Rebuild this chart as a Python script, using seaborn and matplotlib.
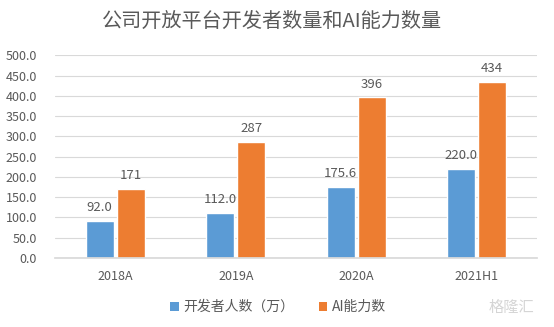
import matplotlib
matplotlib.use("Agg")
import matplotlib.pyplot as plt
import seaborn as sns
import pandas as pd
from matplotlib.patches import Patch

categories = ["2018A", "2019A", "2020A", "2021H1"]
developers = [92.0, 112.0, 175.6, 220.0]
ai_abilities = [171, 287, 396, 434]
series_names = ["开发者人数（万）", "AI能力数"]
title = "公司开放平台开发者数量和AI能力数量"
yticks = [0, 50, 100, 150, 200, 250, 300, 350, 400, 450, 500]

sns.set_theme(style="white")
plt.rcParams['font.family'] = ['Noto Sans CJK SC', 'DejaVu Sans']

df = pd.DataFrame({
    "cat": categories * 2,
    "val": developers + ai_abilities,
    "series": [series_names[0]] * 4 + [series_names[1]] * 4,
})

colors = ["#5B9BD5", "#ED7D31"]
fig = plt.figure(figsize=(5.54, 3.27), dpi=100)
ax = fig.add_axes([55 / 554, 1 - 258 / 327, 482 / 554, 202.7 / 327])
sns.barplot(data=df, x="cat", y="val", hue="series", palette=colors,
            width=0.515, gap=0.1, ax=ax, legend=False, saturation=1)

txt = "#595959"
for i, cont in enumerate(ax.containers):
    fmt = "{:.1f}" if i == 0 else "{:.0f}"
    ax.bar_label(cont, labels=[fmt.format(v) for v in cont.datavalues],
                 padding=5, fontsize=9.5, color=txt)

ax.set_xlim(-0.5, 3.5)
ax.set_ylim(0, 500)
ax.set_yticks(yticks)
ax.set_yticklabels([f"{v:.1f}" for v in yticks])
ax.yaxis.grid(True, color="#D9D9D9", linewidth=0.8)
ax.set_axisbelow(True)
for s in ["top", "right", "left"]:
    ax.spines[s].set_visible(False)
ax.spines["bottom"].set_color("#D9D9D9")
ax.tick_params(axis="both", length=0, labelsize=9, colors=txt)
ax.tick_params(axis="y", pad=13)
ax.tick_params(axis="x", pad=9)
ax.set_xlabel("")
ax.set_ylabel("")

fig.text(272 / 554, 0.933, title, ha="center", va="center", fontsize=14.5, color=txt)

handles = [Patch(facecolor=c, edgecolor="none") for c in colors]
fig.legend(handles, series_names, loc="center", bbox_to_anchor=(278 / 554, 1 - 307 / 327),
           ncol=2, frameon=False, fontsize=10, labelcolor=txt,
           handlelength=0.6, handleheight=0.6, handletextpad=0.3, columnspacing=1.8)

fig.text(0.965, 1 - 307 / 327, "格隆汇", ha="right", va="center", fontsize=11,
         color="#D5D5D5")

fig.savefig("out.png", dpi=100)
